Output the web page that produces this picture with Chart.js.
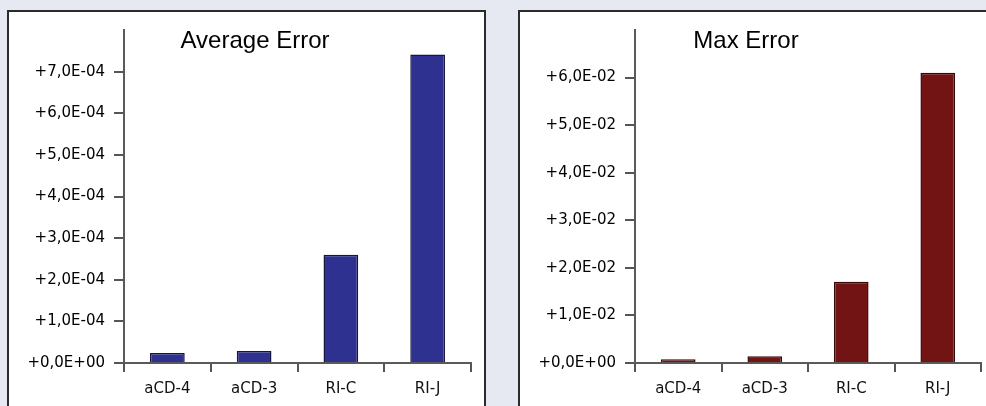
<!DOCTYPE html>
<html>
<head>
<meta charset="utf-8">
<script src="https://cdn.jsdelivr.net/npm/chart.js@4"></script>
<style>
 html,body{margin:0;padding:0;width:986px;height:406px;overflow:hidden;background:#e7e9f2;}
 .panel{position:absolute;top:10px;height:420px;background:#fff;border:2px solid #2b2b2b;}
 #p1{left:7px;width:475px;}
 #p2{left:518px;width:500px;}
 .panel canvas{position:absolute;left:0;top:0;}
</style>
</head>
<body>
<div class="panel" id="p1"><div style="position:absolute;left:0;top:0;width:475px;height:394px"><canvas id="avgChart"></canvas></div></div>
<div class="panel" id="p2"><div style="position:absolute;left:0;top:0;width:466px;height:394px"><canvas id="maxChart"></canvas></div></div>
<script>
// data
const methods=["aCD-4","aCD-3","RI-C","RI-J"];
const avgError=[2.4e-5,2.9e-5,2.6e-4,7.41e-4];
const maxError=[8e-4,1.4e-3,1.71e-2,6.1e-2];
const avgAxis={max:8e-4,step:1e-4};
const maxAxis={max:7e-2,step:1e-2};

function sciLabel(v){
 if(Math.abs(v)<1e-12) return "+0,0E+00";
 let exp=Math.floor(Math.log10(v)+1e-9);
 let mant=v/Math.pow(10,exp);
 let e=Math.abs(exp);
 return "+"+mant.toFixed(1).replace(".",",")+"E"+(exp<0?"-":"+")+(e<10?"0"+e:e);
}

// title drawn inside the plot, like the original
const panelTitle={
 id:"panelTitle",
 afterDraw(chart,args,opts){
  const ctx=chart.ctx;
  ctx.save();
  ctx.font="24px 'Liberation Sans', Arial, sans-serif";
  ctx.fillStyle="#000";
  ctx.textAlign="center";
  ctx.textBaseline="alphabetic";
  ctx.fillText(opts.text,opts.x,opts.y);
  ctx.restore();
 }
};

function makeChart(id,values,axis,fill,edge,title,titleX,padRight){
 const top=axis.max;
 return new Chart(document.getElementById(id),{
  type:"bar",
  data:{labels:methods,datasets:[{data:values,backgroundColor:fill,borderColor:edge,borderWidth:1.5,
   barPercentage:0.4,categoryPercentage:1}]},
  options:{
   responsive:true,maintainAspectRatio:false,animation:false,
   layout:{padding:{left:0,right:padRight,top:15,bottom:0}},
   plugins:{legend:{display:false},tooltip:{enabled:false},
    panelTitle:{text:title,x:titleX,y:36}},
   scales:{
    x:{
     grid:{offset:true,drawOnChartArea:false,drawTicks:true,tickLength:9,color:"#555",lineWidth:2},
     border:{display:true,color:"#5a5a5a",width:2},
     ticks:{font:{family:"'DejaVu Sans', sans-serif",size:15},color:"#111",padding:8},
     afterFit(s){s.height=43;}
    },
    y:{
     min:0,max:top,
     grid:{drawOnChartArea:false,drawTicks:true,tickLength:10,lineWidth:2,
      color:c=>(c.tick&&c.tick.value>=top*0.999)?"rgba(0,0,0,0)":"#555"},
     border:{display:true,color:"#5a5a5a",width:2},
     ticks:{stepSize:axis.step,font:{family:"'DejaVu Sans', sans-serif",size:15},color:"#000",padding:9,
      callback:v=>v>=top*0.999?"":sciLabel(v)},
     afterFit(s){s.width=115;}
    }
   }
  },
  plugins:[panelTitle]
 });
}

makeChart("avgChart",avgError,avgAxis,"#2e3190","#15153e","Average Error",246,13);
makeChart("maxChart",maxError,maxAxis,"#721314","#360909","Max Error",226,5);
</script>
</body>
</html>
